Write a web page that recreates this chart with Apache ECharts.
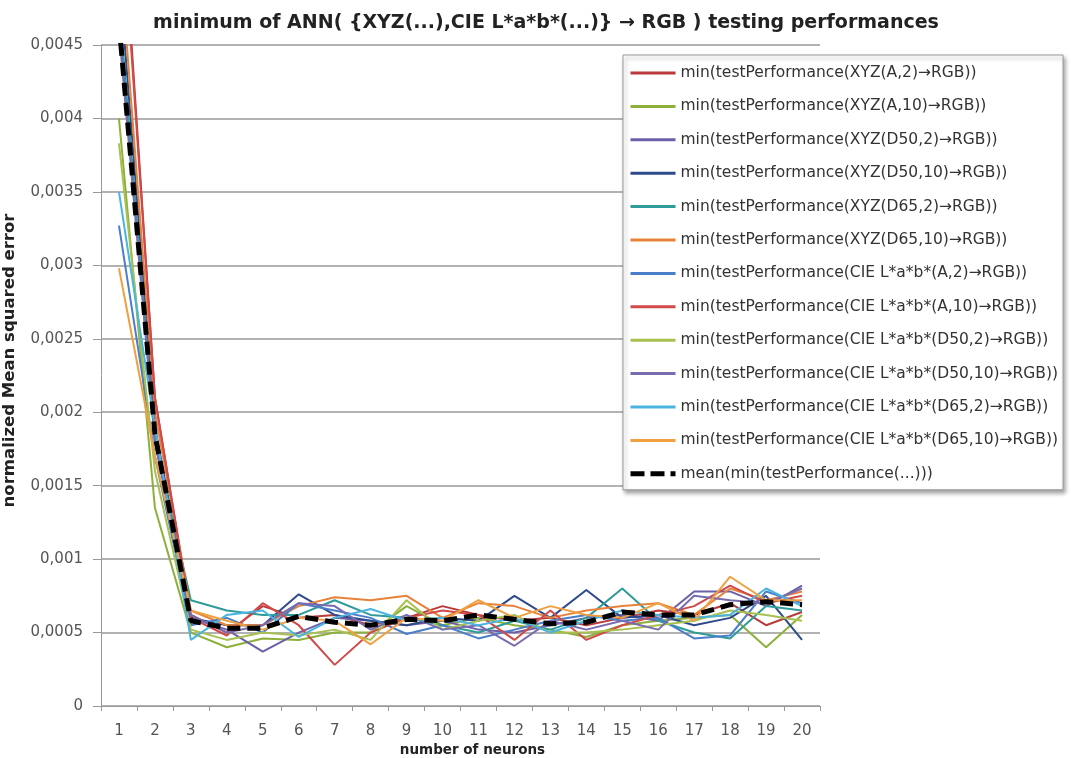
<!DOCTYPE html>
<html><head><meta charset="utf-8">
<script src="https://cdn.jsdelivr.net/npm/echarts@6/dist/echarts.min.js"></script>
<style>html,body{margin:0;padding:0;background:#fff}#c{width:1071px;height:758px}</style>
</head><body><div id="c"></div>
<script>
const categories = ['1','2','3','4','5','6','7','8','9','10','11','12','13','14','15','16','17','18','19','20'];
const yTicks = [0,0.0005,0.001,0.0015,0.002,0.0025,0.003,0.0035,0.004,0.0045];
const names = [
 'min(testPerformance(XYZ(A,2)→RGB))',
 'min(testPerformance(XYZ(A,10)→RGB))',
 'min(testPerformance(XYZ(D50,2)→RGB))',
 'min(testPerformance(XYZ(D50,10)→RGB))',
 'min(testPerformance(XYZ(D65,2)→RGB))',
 'min(testPerformance(XYZ(D65,10)→RGB))',
 'min(testPerformance(CIE L*a*b*(A,2)→RGB))',
 'min(testPerformance(CIE L*a*b*(A,10)→RGB))',
 'min(testPerformance(CIE L*a*b*(D50,2)→RGB))',
 'min(testPerformance(CIE L*a*b*(D50,10)→RGB))',
 'min(testPerformance(CIE L*a*b*(D65,2)→RGB))',
 'min(testPerformance(CIE L*a*b*(D65,10)→RGB))',
 'mean(min(testPerformance(...)))'
];
const xyzA2    = [0.0058,0.0021,0.00062,0.00050,0.00068,0.00060,0.00062,0.00055,0.00060,0.00068,0.00062,0.00058,0.00060,0.00055,0.00060,0.00065,0.00062,0.00070,0.00055,0.00064];
const xyzA10   = [0.0040,0.00135,0.00050,0.00040,0.00046,0.00045,0.00050,0.00050,0.00068,0.00055,0.00060,0.00055,0.00052,0.00047,0.00055,0.00058,0.00060,0.00062,0.00040,0.00062];
const xyzD502  = [0.0047,0.0018,0.00060,0.00052,0.00037,0.00050,0.00060,0.00058,0.00055,0.00058,0.00052,0.00050,0.00055,0.00060,0.00062,0.00058,0.00078,0.00078,0.00068,0.00082];
const xyzD5010 = [0.0050,0.0019,0.00060,0.00055,0.00055,0.00076,0.00062,0.00058,0.00055,0.00060,0.00058,0.00075,0.00060,0.00079,0.00060,0.00062,0.00055,0.00060,0.00075,0.00045];
const xyzD652  = [0.0048,0.0018,0.00072,0.00065,0.00062,0.00062,0.00072,0.00062,0.00060,0.00055,0.00050,0.00058,0.00052,0.00060,0.00080,0.00058,0.00050,0.00046,0.00068,0.00065];
const xyzD6510 = [0.0052,0.0020,0.00065,0.00055,0.00055,0.00068,0.00074,0.00072,0.00075,0.00060,0.00070,0.00068,0.00060,0.00065,0.00068,0.00070,0.00062,0.00080,0.00072,0.00078];
const labA2    = [0.00327,0.0017,0.00055,0.00060,0.00050,0.00070,0.00065,0.00060,0.00049,0.00055,0.00046,0.00052,0.00058,0.00062,0.00058,0.00060,0.00046,0.00048,0.00078,0.00070];
const labA10   = [0.0057,0.0021,0.00060,0.00048,0.00070,0.00055,0.00028,0.00050,0.00060,0.00065,0.00062,0.00045,0.00065,0.00045,0.00055,0.00062,0.00068,0.00082,0.00070,0.00075];
const labD502  = [0.00383,0.0016,0.00052,0.00045,0.00050,0.00048,0.00052,0.00045,0.00072,0.00052,0.00058,0.00062,0.00050,0.00050,0.00052,0.00055,0.00058,0.00065,0.00062,0.00058];
const labD5010 = [0.0046,0.0018,0.00062,0.00050,0.00055,0.00070,0.00068,0.00052,0.00062,0.00052,0.00055,0.00041,0.00058,0.00052,0.00058,0.00052,0.00075,0.00072,0.00070,0.00080];
const labD652  = [0.0035,0.0019,0.00045,0.00062,0.00065,0.00047,0.00060,0.00066,0.00058,0.00060,0.00055,0.00060,0.00050,0.00058,0.00065,0.00062,0.00060,0.00062,0.00080,0.00068];
const labD6510 = [0.00298,0.0017,0.00065,0.00058,0.00052,0.00060,0.00058,0.00042,0.00060,0.00058,0.00072,0.00060,0.00068,0.00062,0.00060,0.00070,0.00058,0.00088,0.00072,0.00072];
const meanVals = [0.00465,0.00185,0.00058,0.00053,0.00053,0.00061,0.00057,0.00055,0.00059,0.00058,0.00062,0.00059,0.00056,0.00057,0.00064,0.00062,0.00062,0.00069,0.00071,0.00069];
const seriesData = [xyzA2,xyzA10,xyzD502,xyzD5010,xyzD652,xyzD6510,labA2,labA10,labD502,labD5010,labD652,labD6510,meanVals];
const colors = ['#B83A3A','#8DB03A','#6A5FA8','#2E4A8A','#2E9C98','#E8823A','#4A7EC8','#D04A4A','#A8C050','#7A6AAE','#4AB4E0','#F0A040','#000000'];

const chart = echarts.init(document.getElementById('c'));
const FONT = 'DejaVu Sans';
const series = seriesData.map((d,i)=>({
  name: names[i], type:'line', data:d, symbol:'none', clip:true,
  z: i===12 ? 10 : 2,
  lineStyle: i===12 ? {color:'#000', width:5, type:[13,7]} : {color:colors[i], width:2},
  itemStyle:{color:colors[i]}
}));
chart.setOption({
  animation:false,
  backgroundColor:'#fff',
  color: colors,
  title:{text:'minimum of ANN( {XYZ(...),CIE L*a*b*(...)} → RGB ) testing performances', left:541, textAlign:'center', top:9,
    textStyle:{fontFamily:FONT, fontSize:19, fontWeight:'bold', color:'#222'}},
  grid:{left:101, right:251, top:45, bottom:52, containLabel:false, outerBoundsMode:'none'},
  legend:{orient:'vertical', left:623, top:55, itemWidth:45, itemHeight:14, itemGap:17.4,
    padding:[10,5,8,5], backgroundColor:'#fff', borderColor:'#999', borderWidth:1,
    shadowBlur:4, shadowOffsetX:2, shadowOffsetY:3, shadowColor:'rgba(0,0,0,0.35)',
    itemStyle:{opacity:0},
    textStyle:{fontFamily:FONT, fontSize:15.5, color:'#333'},
    data: names.map((n,i)=>({name:n, lineStyle: i===12 ? {width:5, type:[14,6]} : {width:3}}))},
  xAxis:{type:'category', data:categories, boundaryGap:true,
    name:'number of neurons', nameLocation:'middle', nameGap:37, nameMoveOverlap:false,
    nameTextStyle:{fontFamily:FONT, fontSize:13.5, fontWeight:'bold', color:'#222', padding:[0,0,0,24]},
    axisLine:{lineStyle:{color:'#999'}}, axisTick:{show:true, alignWithLabel:false, length:5, lineStyle:{color:'#999'}},
    axisLabel:{fontFamily:FONT, fontSize:15, color:'#555', margin:18}},
  yAxis:{type:'value', min:0, max:0.0045, interval:0.0005,
    name:'normalized Mean squared error', nameLocation:'middle', nameGap:83, nameMoveOverlap:false,
    nameTextStyle:{fontFamily:FONT, fontSize:16.5, fontWeight:'bold', color:'#222', padding:[0,0,0,30]},
    axisLine:{show:true, lineStyle:{color:'#999'}}, axisTick:{show:true, length:8, lineStyle:{color:'#999'}},
    splitLine:{lineStyle:{color:'#999', width:1.5}},
    axisLabel:{fontFamily:FONT, fontSize:15, color:'#555', margin:18,
      formatter:v=>{const t=yTicks.find(x=>Math.abs(x-v)<1e-9); return String(t===undefined?v:t).replace('.',',');}}},
  series
});
</script></body></html>
